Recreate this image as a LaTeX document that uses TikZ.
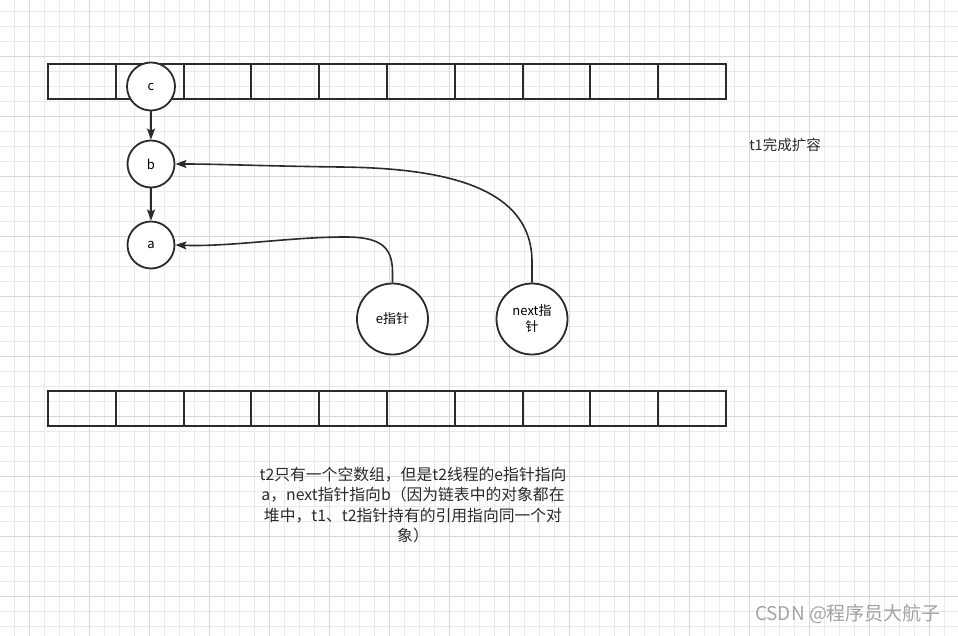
\documentclass[tikz,border=0pt]{standalone}
\usepackage{fontspec}
\setmainfont{Noto Sans CJK SC}
\usetikzlibrary{arrows.meta}
\definecolor{ink}{HTML}{2B2B2B}
\definecolor{gminor}{HTML}{EAEAEA}
\definecolor{gmajor}{HTML}{D8D8D8}
\definecolor{wm}{HTML}{A3A3A3}
\tikzset{
  cell/.style={draw=ink, line width=2pt, minimum width=67.8pt, minimum height=35pt, inner sep=0pt, anchor=north west},
  small/.style={circle, draw=ink, fill=white, line width=1.8pt, minimum size=47pt, inner sep=0pt, font=\fontsize{13}{15}\selectfont},
  big/.style={circle, draw=ink, fill=white, line width=1.8pt, minimum size=71pt, inner sep=0pt, align=center, font=\fontsize{13}{16}\selectfont},
  link/.style={draw=ink, line width=1.6pt, -{Stealth[length=11pt,width=8pt,inset=2pt]}},
  label/.style={text=ink, font=\fontsize{15.8}{20.5}\selectfont, align=center, inner sep=0pt}
}
\begin{document}
\begin{tikzpicture}[x=1pt,y=-1pt]
\useasboundingbox (0,0) rectangle (958,636);
\fill[white] (0,0) rectangle (958,636);
% grid
\foreach \k in {0,...,64} {
  \pgfmathsetmacro{\xx}{15*\k-0.7}
  \draw[gminor, line width=0.8pt] (\xx,0) -- (\xx,636);
}
\foreach \k in {0,...,42} {
  \pgfmathsetmacro{\yy}{15*\k-4}
  \draw[gminor, line width=0.8pt] (0,\yy) -- (958,\yy);
}
\foreach \k in {0,...,16} {
  \pgfmathsetmacro{\xx}{60*\k+29.3}
  \draw[gmajor, line width=0.8pt] (\xx,0) -- (\xx,636);
}
\foreach \k in {0,...,10} {
  \pgfmathsetmacro{\yy}{60*\k-4}
  \draw[gmajor, line width=0.8pt] (0,\yy) -- (958,\yy);
}
% arrays
\foreach \i in {0,...,9} {
  \node[cell] (top\i) at ({47+67.8*\i},63) {};
  \node[cell] (bot\i) at ({47+67.8*\i},390) {};
}
% nodes
\node[small, minimum size=48pt] (c) at (151,86.5) {c};
\node[small] (b) at (151,164) {b};
\node[small] (a) at (151,245) {a};
\node[big] (e) at (392.5,319) {e指针};
\node[big] (nx) at (532,319) {next指\\针};
% links
\draw[link] (c) -- (b);
\draw[link] (b) -- (a);
\draw[link] (e.north) -- (392.5,272) .. controls (392.5,245) and (378,237) .. (345,237) .. controls (290,237) and (230,247) .. (a.east);
\draw[link] (nx.north) -- (532,262) .. controls (532,185) and (440,168) .. (340,167) .. controls (260,166) and (220,164) .. (b.east);
% texts
\node[label, font=\fontsize{14.5}{17}\selectfont] (t1) at (785,145) {t1完成扩容};
\node[label] (t2) at (413,505) {t2只有一个空数组，但是t2线程的e指针指向\\a，next指针指向b（因为链表中的对象都在\\堆中，t1、t2指针持有的引用指向同一个对\\象）};
\node[text=wm, font=\fontsize{19}{22}\selectfont, inner sep=0pt] (wmk) at (848,614) {CSDN @程序员大航子};
\end{tikzpicture}
\end{document}
